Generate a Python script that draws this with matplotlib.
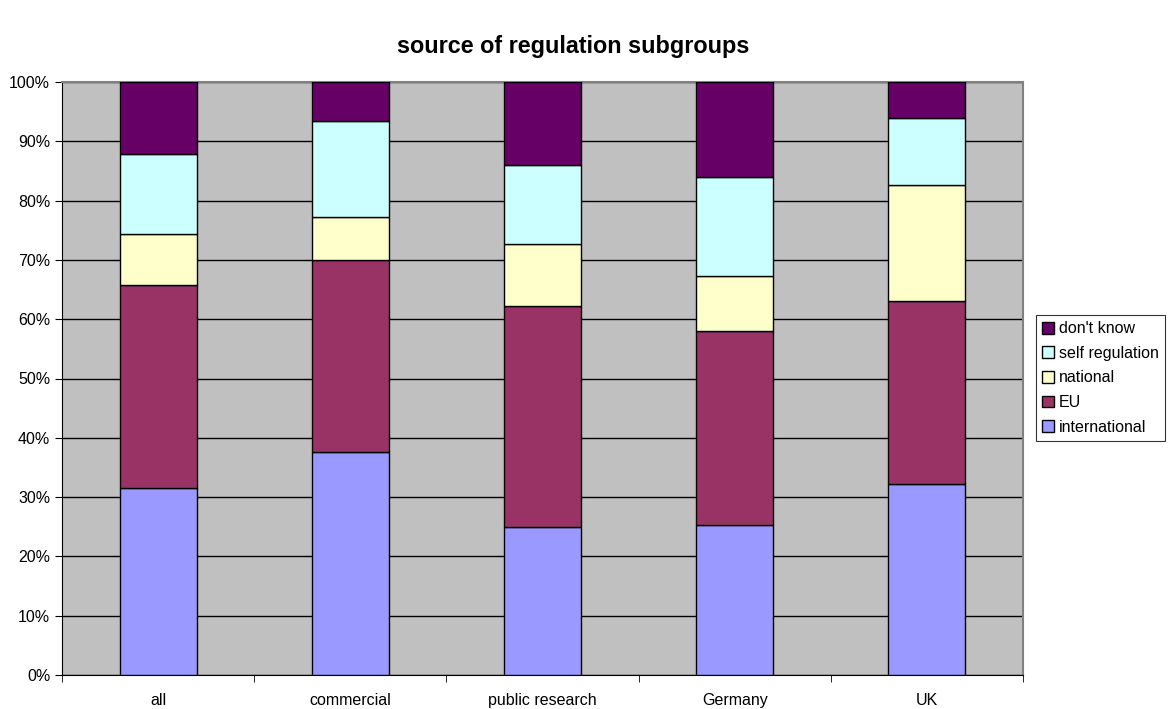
import matplotlib.pyplot as plt
import numpy as np
from matplotlib.ticker import PercentFormatter

# Data (percent shares)
groups = ["all", "commercial", "public research", "Germany", "UK"]
international = [31.6, 37.6, 24.9, 25.3, 32.2]
eu = [34.2, 32.4, 37.3, 32.7, 30.9]
national = [8.5, 7.2, 10.5, 9.3, 19.6]
self_regulation = [13.5, 16.2, 13.3, 16.7, 11.2]
dont_know = [12.2, 6.6, 14.0, 16.0, 6.1]

series = [
    ("international", international, "#9999FF"),
    ("EU", eu, "#993366"),
    ("national", national, "#FFFFCC"),
    ("self regulation", self_regulation, "#CCFFFF"),
    ("don't know", dont_know, "#660066"),
]

plt.rcParams['font.family'] = ['Liberation Sans', 'DejaVu Sans']

fig = plt.figure(figsize=(11.68, 7.09), dpi=100)
ax = fig.add_axes([62 / 1168, 34 / 709, 961 / 1168, 593 / 709])
ax.set_facecolor("#C0C0C0")

x = np.arange(len(groups))
bottom = np.zeros(len(groups))
handles = []
for name, vals, color in series:
    vals = np.array(vals)
    b = ax.bar(x, vals, width=0.4, bottom=bottom, color=color,
               edgecolor="black", linewidth=1.0, label=name, zorder=3)
    handles.append(b)
    bottom += vals

ax.set_xlim(-0.5, len(groups) - 0.5)
ax.set_ylim(0, 100)
ax.set_yticks(range(0, 101, 10))
ax.yaxis.set_major_formatter(PercentFormatter(decimals=0))
ax.yaxis.grid(True, color="black", linewidth=1.0, zorder=1)
ax.set_axisbelow(True)

# category labels centred, ticks at category boundaries
ax.set_xticks(x)
ax.set_xticklabels(groups, fontsize=11.5)
ax.tick_params(axis="x", length=0, pad=13)
ax.set_xticks(np.arange(-0.5, len(groups)), minor=True)
ax.tick_params(axis="x", which="minor", length=5, color="black")
ax.tick_params(axis="y", length=5, labelsize=11.5, color="black")

for side in ["top", "right"]:
    ax.spines[side].set_color("#808080")
    ax.spines[side].set_linewidth(1.5)
for side in ["left", "bottom"]:
    ax.spines[side].set_color("black")

fig.suptitle("source of regulation subgroups", fontsize=16.8, fontweight="bold",
             x=573 / 1168, y=1 - 47 / 709, va="center")

leg = ax.legend(handles[::-1], [s[0] for s in series][::-1],
                loc="center left", bbox_to_anchor=(1036 / 1168, 1 - 378 / 709),
                bbox_transform=fig.transFigure, fontsize=11.5, frameon=True,
                fancybox=False, edgecolor="black", handlelength=0.75,
                handleheight=0.75, handletextpad=0.3, labelspacing=0.6,
                borderpad=0.4, borderaxespad=0)
leg.get_frame().set_linewidth(0.8)

fig.savefig("out.png", dpi=100)
